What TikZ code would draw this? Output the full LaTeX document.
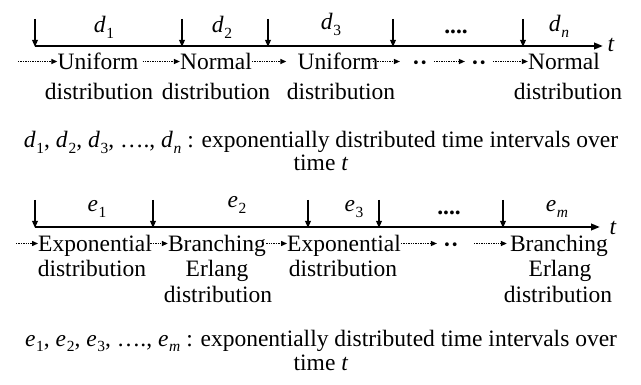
\documentclass[tikz,border=0pt]{standalone}
\usepackage{fontspec}
\setmainfont{Liberation Serif}
\usetikzlibrary{arrows.meta}
\newcommand\lblsub[2]{\textit{#1}\kern0.03em\raisebox{-0.22em}{\fontsize{15.5}{16}\selectfont #2}}
\tikzset{
  txt/.style={font=\fontsize{23.5}{28}\selectfont, inner sep=0pt, anchor=base},
  head/.style={txt, text height=17pt, text depth=0pt},
  dots/.style={font=\fontsize{23.5}{28}\selectfont\bfseries, inner ysep=0pt, inner xsep=6pt, anchor=center},
  dotarr/.style={line width=1.3pt, dash pattern=on 1.4pt off 1pt, -{Triangle[length=6pt,width=5pt]}},
  downarr/.style={line width=1.7pt, -{Triangle[length=7pt,width=5.5pt]}},
  axisarr/.style={line width=2.2pt, -{Triangle[length=9pt,width=6.5pt]}}
}
\begin{document}
\begin{tikzpicture}[x=1pt,y=-1pt]
\useasboundingbox (0,0) rectangle (641,385);
% ---------- top timeline ----------
\coordinate (ta0) at (35,46);
\coordinate (ta1) at (603,46);
\draw[axisarr] (ta0) -- (ta1);
\node[txt] (tt) at (611,52) {\textit{t}};
\foreach \i/\x in {1/35,2/182,3/268,4/393,5/523}{
  \coordinate (tu\i) at (\x,19);
  \coordinate (tb\i) at (\x,47);
  \draw[downarr] (tu\i) -- (tb\i);
}
\node[txt] (ld1) at (104,33) {\lblsub{d}{1}};
\node[txt] (ld2) at (222,33) {\lblsub{d}{2}};
\node[txt] (ld3) at (331,30) {\lblsub{d}{3}};
\node[txt] (ldd) at (456,34) {\textbf{....}};
\node[txt] (ldn) at (559,32) {\lblsub{d}{\textit{n}}};
% distributions row 1
\node[head] (u1) at (98,70) {Uniform};
\node[txt]  (u1b) at (99,100) {distribution};
\node[head] (n1) at (216,70) {Normal};
\node[txt]  (n1b) at (216,100) {distribution};
\node[head] (u2) at (338,70) {Uniform};
\node[txt]  (u2b) at (341,100) {distribution};
\node[dots] (dd1) at (420,66) {··};
\node[dots] (dd2) at (479,66) {··};
\node[head] (n2) at (564,70) {Normal};
\node[txt]  (n2b) at (568,100) {distribution};
\coordinate (s1) at (18,61.5);
\draw[dotarr] (s1) -- (u1.west);
\draw[dotarr, shorten <=4pt] (u1.east) -- (n1.west);
\draw[dotarr, shorten >=11pt] (n1.east) -- (u2.west);
\draw[dotarr, shorten <=-6pt, shorten >=6pt] (u2.east) -- (dd1.west |- u2.west);
\draw[dotarr] (dd1.east |- u2.east) -- (dd2.west |- u2.west);
\draw[dotarr] (dd2.east |- n2.west) -- (n2.west);
% caption 1
\node[txt] (c1) at (321,148) {\lblsub{d}{1}, \lblsub{d}{2}, \lblsub{d}{3}, …., \lblsub{d}{\textit{n}} : exponentially distributed time intervals over};
\node[txt] (c1b) at (321,171) {time \textit{t}};
% ---------- bottom timeline ----------
\coordinate (ba0) at (35,227);
\coordinate (ba1) at (600,227);
\draw[axisarr] (ba0) -- (ba1);
\node[txt] (bt) at (613,235) {\textit{t}};
\foreach \i/\x in {1/35,2/153,3/308,4/379,5/503}{
  \coordinate (bu\i) at (\x,200);
  \coordinate (bb\i) at (\x,228);
  \draw[downarr] (bu\i) -- (bb\i);
}
\node[txt] (le1) at (97,212) {\lblsub{e}{1}};
\node[txt] (le2) at (237,208) {\lblsub{e}{2}};
\node[txt] (le3) at (354,212) {\lblsub{e}{3}};
\node[txt] (lee) at (449,215) {\textbf{....}};
\node[txt] (lem) at (557,212) {\lblsub{e}{\textit{m}}};
% distributions row 2
\node[head] (x1) at (95,252) {Exponential};
\node[txt]  (x1b) at (92,277) {distribution};
\node[head] (b1) at (217,252) {Branching};
\node[txt]  (b1c) at (217,277) {Erlang};
\node[txt]  (b1b) at (218,303) {distribution};
\node[head] (x2) at (344,252) {Exponential};
\node[txt]  (x2b) at (343,277) {distribution};
\node[dots] (dd3) at (451,247.5) {··};
\node[head] (b2) at (559,252) {Branching};
\node[txt]  (b2c) at (560,277) {Erlang};
\node[txt]  (b2b) at (558,303) {distribution};
\coordinate (s2) at (16,243.5);
\draw[dotarr] (s2) -- (x1.west);
\draw[dotarr, shorten <=-4pt] (x1.east) -- (b1.west);
\draw[dotarr] (b1.east) -- (x2.west);
\draw[dotarr] (x2.east) -- (dd3.west |- x2.west);
\draw[dotarr, shorten <=9pt, shorten >=3pt] (dd3.east |- b2.west) -- (b2.west);
% caption 2
\node[txt] (c2) at (321,346) {\lblsub{e}{1}, \lblsub{e}{2}, \lblsub{e}{3}, …., \lblsub{e}{\textit{m}} : exponentially distributed time intervals over};
\node[txt] (c2b) at (321,370.5) {time \textit{t}};
\end{tikzpicture}
\end{document}
